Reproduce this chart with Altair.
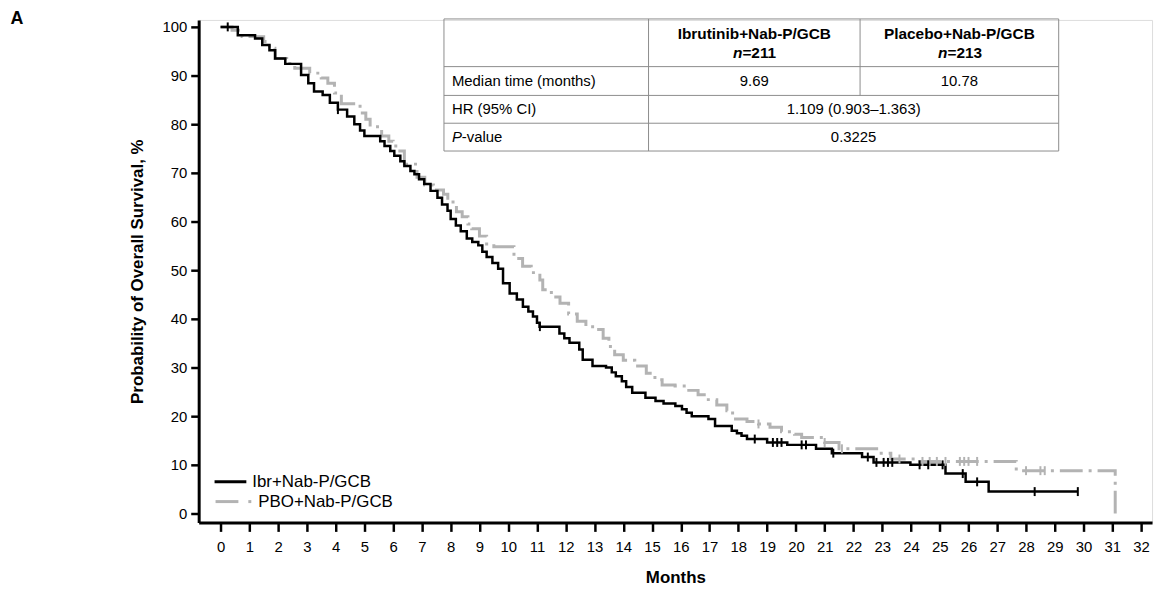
import altair as alt
import pandas as pd

# ---------------- data ----------------
ibr_t = [0, 0.6, 1.2, 1.45, 1.7, 1.9, 2.25, 2.8, 3.05, 3.25, 3.55, 3.8, 4.08, 4.4, 4.65, 4.85, 5.0,
         5.55, 5.7, 5.9, 6.04, 6.25, 6.39, 6.6, 6.74, 6.9, 7.08, 7.3, 7.54, 7.7, 7.89, 8.0, 8.18,
         8.35, 8.56, 8.75, 8.96, 9.1, 9.25, 9.45, 9.65, 9.82, 10.05, 10.3, 10.51, 10.7, 10.86, 11.0,
         11.09, 11.78, 11.95, 12.13, 12.47, 12.59, 12.93, 13.4, 13.6, 13.74, 13.95, 14.1, 14.31,
         14.77, 15.12, 15.4, 15.81, 16.04, 16.2, 16.38, 16.96, 17.19, 17.77, 17.95, 18.11, 18.3,
         19.0, 19.7, 20.7, 21.25, 22.3, 22.7, 23.98, 25.2, 25.9, 26.7, 29.8]
ibr_s = [100, 98.3, 97.6, 96.3, 95.2, 93.5, 92.4, 90.1, 88.4, 86.7, 86.0, 84.4, 83.0, 81.6, 80.0,
         78.7, 77.6, 76.5, 75.5, 74.5, 73.5, 72.4, 71.4, 70.4, 69.7, 68.7, 67.7, 66.3, 64.9, 63.5,
         62.2, 60.5, 59.2, 58.0, 56.5, 55.8, 55.1, 53.8, 52.7, 51.5, 50.3, 47.3, 45.2, 44.0, 42.5,
         41.5, 40.5, 39.2, 38.4, 37.0, 36.0, 35.1, 33.7, 31.6, 30.3, 30.0, 29.0, 28.2, 27.2, 26.0,
         24.8, 23.8, 23.1, 22.6, 22.1, 21.4, 20.7, 20.0, 19.4, 18.0, 17.0, 16.5, 16.0, 15.3, 14.6,
         14.1, 13.3, 12.4, 11.6, 10.5, 10.0, 8.2, 6.5, 4.5, 4.5]

pbo_t = [0, 0.4, 0.75, 1.5, 1.7, 1.89, 2.3, 2.58, 3.1, 3.5, 3.73, 3.96, 4.2, 4.85, 5.05, 5.2, 5.6,
         5.85, 6.0, 6.16, 6.39, 6.83, 7.1, 7.4, 7.75, 7.9, 8.2, 8.4, 8.6, 8.73, 9.0, 9.25, 9.5,
         10.2, 10.5, 10.8, 11.1, 11.2, 11.5, 11.8, 12.1, 12.4, 12.7, 13.05, 13.3, 13.5, 13.7, 14.0,
         14.4, 14.8, 15.1, 15.35, 15.8, 16.2, 16.6, 16.9, 17.25, 17.6, 17.8, 18.3, 18.7, 19.1,
         19.5, 19.95, 20.2, 21.0, 21.5, 22.9, 23.3, 24.15, 27.66, 31.1]
pbo_s = [100, 99.3, 98.0, 97.0, 95.6, 93.5, 92.5, 91.5, 90.5, 89.5, 88.4, 86.4, 84.2, 82.3, 81.0,
         79.5, 77.6, 76.5, 75.5, 74.5, 71.8, 69.1, 67.5, 66.5, 65.6, 64.0, 62.0, 61.0, 59.5, 58.5,
         57.0, 55.4, 54.8, 52.4, 50.8, 49.5, 48.0, 46.0, 44.5, 43.2, 41.0, 39.5, 38.4, 37.8, 36.0,
         34.3, 32.6, 31.5, 30.3, 28.8, 27.5, 26.4, 26.2, 25.3, 24.4, 23.4, 22.3, 21.1, 19.4, 18.9,
         18.4, 17.7, 16.8, 16.3, 15.6, 14.6, 13.3, 12.4, 11.2, 10.7, 8.8, 0]

ibr_cens = [0.25, 4.08, 11.1, 18.57, 19.2, 19.35, 19.5, 20.2, 20.35, 21.3, 22.5, 22.8, 23.05,
            23.2, 23.35, 24.3, 24.6, 25.1, 25.8, 26.3, 28.3, 29.8]
pbo_cens = [18.7, 21.0, 21.6, 23.6, 24.4, 24.65, 24.9, 25.2, 25.7, 25.85, 26.0, 26.3, 28.0,
            28.5, 28.65]

month_ticks = list(range(0, 33))
pct_ticks = list(range(0, 101, 10))

legend_labels = ["Ibr+Nab-P/GCB", "PBO+Nab-P/GCB"]
tbl_head = ["Ibrutinib+Nab-P/GCB", "Placebo+Nab-P/GCB"]
tbl_n = ["=211", "=213"]
tbl_rows = ["Median time (months)", "HR (95% CI)", "-value"]
tbl_median = ["9.69", "10.78"]
tbl_hr = "1.109 (0.903\u20131.363)"
tbl_p = "0.3225"

# ---------------- helpers ----------------
FONT = "Liberation Sans"
BLACK = "#000000"
GRAY = "#b3b3b3"
LINEGRAY = "#8c8c8c"


def surv_at(ts, ss, c):
    v = ss[0]
    for t, s in zip(ts, ss):
        if t <= c:
            v = s
    return v


df_ibr = pd.DataFrame({"t": ibr_t, "s": ibr_s})
df_pbo = pd.DataFrame({"t": pbo_t, "s": pbo_s})
df_ibr_c = pd.DataFrame({"t": ibr_cens, "s": [surv_at(ibr_t, ibr_s, c) for c in ibr_cens]})
df_pbo_c = pd.DataFrame({"t": pbo_cens, "s": [surv_at(pbo_t, pbo_s, c) for c in pbo_cens]})
dummy = pd.DataFrame({"d": [0]})

xs = alt.Scale(domain=[-0.76, 32.38], nice=False, zero=False)
ys = alt.Scale(domain=[-1.84, 101.43], nice=False, zero=False)

xaxis = alt.Axis(values=month_ticks, title="Months", grid=False, tickSize=9, tickWidth=2.5,
                 domainWidth=3, domainColor=BLACK, tickColor=BLACK, labelFontSize=15,
                 labelPadding=8, labelColor=BLACK, titleFontSize=17, titleFontWeight="bold",
                 titleColor=BLACK, titleY=60, titleBaseline="alphabetic", labelFont=FONT,
                 titleFont=FONT, labelFlush=False, labelOverlap=False, tickCount=33)
yaxis = alt.Axis(values=pct_ticks, title="Probability of Overall Survival, %", grid=False,
                 tickSize=8, tickWidth=2.5, domainWidth=3, domainColor=BLACK, tickColor=BLACK,
                 labelFontSize=15, labelPadding=4, labelColor=BLACK, titleFontSize=17,
                 titleFontWeight="bold", titleColor=BLACK, titleX=-57, titleY=253,
                 titleBaseline="alphabetic", titleAlign="center", labelFont=FONT,
                 titleFont=FONT, labelFlush=False, labelOverlap=False, tickCount=11)

XE = alt.X("t:Q", scale=xs, axis=xaxis)
YE = alt.Y("s:Q", scale=ys, axis=yaxis)

DASH = [23, 6, 3, 6]

line_pbo = alt.Chart(df_pbo).mark_line(
    interpolate="step-after", color=GRAY, strokeWidth=3, strokeDash=DASH
).encode(x=XE, y=YE)

line_ibr = alt.Chart(df_ibr).mark_line(
    interpolate="step-after", color=BLACK, strokeWidth=2.5
).encode(x=XE, y=YE)

cens_pbo = alt.Chart(df_pbo_c).mark_tick(
    orient="vertical", color=GRAY, size=9, thickness=2, opacity=1
).encode(x=XE, y=YE)

cens_ibr = alt.Chart(df_ibr_c).mark_tick(
    orient="vertical", color=BLACK, size=9, thickness=2, opacity=1
).encode(x=XE, y=YE)


def txt(s, x, y, size=15, weight="normal", style="normal", align="left", color=BLACK):
    return alt.Chart(dummy).mark_text(
        text=s, font=FONT, fontSize=size, fontWeight=weight, fontStyle=style,
        align=align, baseline="middle", color=color
    ).encode(x=alt.value(x), y=alt.value(y))


def hline(x1, x2, y, color=LINEGRAY, width=1):
    return alt.Chart(dummy).mark_rule(color=color, strokeWidth=width).encode(
        x=alt.value(x1), x2=alt.value(x2), y=alt.value(y))


def vline(x, y1, y2, color=LINEGRAY, width=1):
    return alt.Chart(dummy).mark_rule(color=color, strokeWidth=width).encode(
        x=alt.value(x), y=alt.value(y1), y2=alt.value(y2))


# ---------------- table (pixel layout, relative to plot area) ----------------
TL, C1, C2, TR = 247, 453, 666, 866
RT, RH, R1, R2, RB = -1, 47, 76, 104, 132
layers = []
for yy in (RT, RH, R1, R2, RB):
    layers.append(hline(TL, TR, yy))
layers.append(vline(TL, RT, RB))
layers.append(vline(TR, RT, RB))
layers.append(vline(C1, RT, RB))
layers.append(vline(C2, RT, R1))

cx2 = (C1 + C2) / 2
cx3 = (C2 + TR) / 2
cspan = (C1 + TR) / 2
for cx, head, n in ((cx2, tbl_head[0], tbl_n[0]), (cx3, tbl_head[1], tbl_n[1])):
    layers.append(txt(head, cx, 14, size=15.5, weight="bold", align="center"))
    split = cx - 20 + 8
    layers.append(txt("n", split, 33, size=15.5, weight="bold", style="italic", align="right"))
    layers.append(txt(n, split, 33, size=15.5, weight="bold", align="left"))

layers.append(txt(tbl_rows[0], TL + 8, (RH + R1) / 2))
layers.append(txt(tbl_rows[1], TL + 8, (R1 + R2) / 2))
layers.append(txt("P", TL + 8, (R2 + RB) / 2, style="italic"))
layers.append(txt(tbl_rows[2], TL + 8 + 10, (R2 + RB) / 2))
layers.append(txt(tbl_median[0], cx2, (RH + R1) / 2, align="center"))
layers.append(txt(tbl_median[1], cx3, (RH + R1) / 2, align="center"))
layers.append(txt(tbl_hr, cspan, (R1 + R2) / 2, align="center"))
layers.append(txt(tbl_p, cspan, (R2 + RB) / 2, align="center"))

# ---------------- legend ----------------
layers.append(hline(16, 48, 465, color=BLACK, width=3))
layers.append(txt(legend_labels[0], 54, 465, size=17))
layers.append(hline(17, 40, 485, color=GRAY, width=3))
layers.append(hline(50, 53, 485, color=GRAY, width=3))
layers.append(txt(legend_labels[1], 60, 485, size=17))

# ---------------- panel letter ----------------
layers.append(txt("A", -183, -1, size=18, weight="bold", align="center"))

chart = alt.layer(line_pbo, line_ibr, cens_pbo, cens_ibr, *layers).properties(
    width=960, height=506,
    autosize=alt.AutoSizeParams(type="none"),
    padding={"left": 192, "top": 10, "right": 6, "bottom": 65},
).configure_view(stroke=None).configure(font=FONT, background="white")

chart.save("out.html", embed_options={"renderer": "svg", "actions": False})
